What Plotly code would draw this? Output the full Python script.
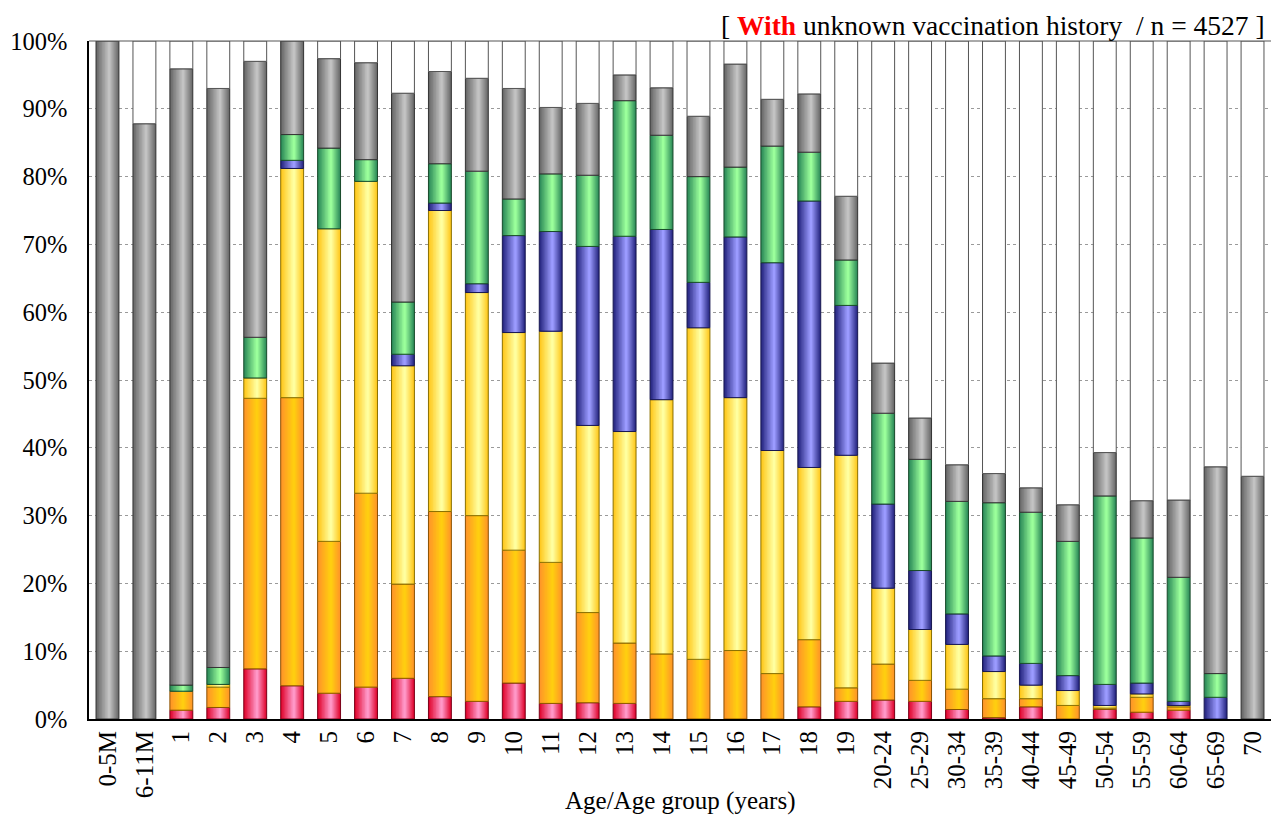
import numpy as np
import plotly.graph_objects as go

categories = ["0-5M", "6-11M", "1", "2", "3", "4", "5", "6", "7", "8", "9", "10",
              "11", "12", "13", "14", "15", "16", "17", "18", "19",
              "20-24", "25-29", "30-34", "35-39", "40-44", "45-49", "50-54",
              "55-59", "60-64", "65-69", "70"]

seg_red = [0, 0, 1.3, 1.7, 7.4, 4.9, 3.8, 4.7, 6.0, 3.3, 2.6, 5.3, 2.3, 2.4, 2.3, 0,
           0, 0, 0, 1.8, 2.6, 2.8, 2.6, 1.4, 0.2, 1.8, 0, 1.4, 1.0, 1.3, 0, 0]
seg_orange = [0, 0, 2.8, 3.0, 39.9, 42.5, 22.4, 28.6, 13.9, 27.3, 27.4, 19.6, 20.8, 13.3, 8.9, 9.6,
              8.8, 10.1, 6.7, 9.9, 2.0, 5.3, 3.1, 3.0, 2.8, 1.2, 2.0, 0.2, 2.2, 0.5, 0, 0]
seg_yellow = [0, 0, 0, 0.4, 3.0, 33.8, 46.1, 46.0, 32.2, 44.4, 32.9, 32.1, 34.1, 27.6, 31.2, 37.5,
              48.9, 37.3, 32.9, 25.4, 34.3, 11.2, 7.5, 6.6, 4.0, 2.0, 2.2, 0.4, 0.5, 0.2, 0, 0]
seg_blue = [0, 0, 0, 0, 0, 1.2, 0, 0, 1.7, 1.1, 1.3, 14.3, 14.7, 26.4, 28.8, 25.1,
            6.7, 23.7, 27.7, 39.3, 22.1, 12.4, 8.7, 4.5, 2.3, 3.2, 2.2, 3.1, 1.6, 0.6, 3.2, 0]
seg_green = [0, 0, 0.9, 2.5, 6.0, 3.8, 11.9, 3.2, 7.7, 5.8, 16.6, 5.4, 8.5, 10.5, 20.0, 13.9,
             15.6, 10.3, 17.2, 7.2, 6.7, 13.4, 16.4, 16.6, 22.6, 22.3, 19.8, 27.8, 21.4, 18.3, 3.5, 0]
seg_gray = [100, 87.8, 90.9, 85.4, 40.7, 13.8, 13.2, 14.3, 30.8, 13.6, 13.7, 16.3, 9.8, 10.6, 3.8, 7.0,
            8.9, 15.2, 6.9, 8.6, 9.4, 7.4, 6.1, 5.4, 4.3, 3.6, 5.4, 6.4, 5.5, 11.4, 30.5, 35.8]

y_ticks = [0, 10, 20, 30, 40, 50, 60, 70, 80, 90, 100]
y_labels = [f"{t}%" for t in y_ticks]

# (values, edge colour, centre colour, outline colour)
series = [
    (seg_red, (224, 8, 48), (255, 152, 200), "#7a0018"),
    (seg_orange, (255, 150, 40), (255, 206, 16), "#8a5000"),
    (seg_yellow, (255, 200, 30), (255, 255, 160), "#8a7000"),
    (seg_blue, (40, 40, 130), (155, 155, 255), "#181850"),
    (seg_green, (45, 140, 90), (155, 255, 155), "#184a2a"),
    (seg_gray, (105, 105, 105), (195, 195, 195), "#333333"),
]

FONT = "Liberation Serif, Times New Roman, serif"
n = len(categories)
x = np.arange(n, dtype=float)
W = 0.62
N = 9

fig = go.Figure()
base = np.zeros(n)


def mix(a, b, t):
    return "rgb(%d,%d,%d)" % tuple(round(a[i] + (b[i] - a[i]) * t) for i in range(3))


for vals, edge, centre, lc in series:
    v = np.array(vals, dtype=float)
    m = v > 0
    for k in range(N):
        t = k / (N - 1)
        w = W * (1 - 0.9 * t)
        shift = 0.07 * W * t
        fig.add_bar(x=x[m], y=v[m], base=base[m], width=w, offset=-w / 2 + shift,
                    marker=dict(color=mix(edge, centre, t), line=dict(width=0)),
                    hoverinfo="skip", showlegend=False)
    fig.add_bar(x=x[m], y=v[m], base=base[m], width=W, offset=-W / 2,
                marker=dict(color="rgba(0,0,0,0)", line=dict(color=lc, width=1)),
                showlegend=False)
    base = base + v

rest = 100 - base
m = rest > 0.05
fig.add_bar(x=x[m], y=rest[m], base=base[m], width=W, offset=-W / 2,
            marker=dict(color="white", line=dict(color="#555555", width=1)),
            showlegend=False)

fig.update_layout(
    width=1272, height=816,
    barmode="overlay",
    plot_bgcolor="white", paper_bgcolor="white",
    margin=dict(l=89, r=1, t=41, b=97, autoexpand=False),
    font=dict(family=FONT, color="black"),
    showlegend=False,
)
fig.update_xaxes(
    range=[-0.5, n - 0.5], tickmode="array", tickvals=x, ticktext=categories,
    tickangle=-90, tickfont=dict(family=FONT, size=25), showgrid=False,
    showline=True, linecolor="black", linewidth=2, ticks="", zeroline=False,
    automargin=False,
)
fig.update_yaxes(
    range=[0, 100], tickmode="array", tickvals=y_ticks, ticktext=y_labels,
    tickfont=dict(family=FONT, size=24.5),
    showgrid=True, gridcolor="#9a9a9a", griddash="dot", gridwidth=1,
    showline=True, linecolor="black", linewidth=1.5, ticks="", zeroline=False,
    ticklabelstandoff=15, automargin=False,
)
fig.add_shape(type="line", xref="paper", yref="paper", x0=0, x1=1, y0=1, y1=1,
              line=dict(color="#555555", width=1))
fig.add_annotation(
    xref="paper", yref="paper", x=0.5, y=-(801 - 719) / 678, xanchor="center", yanchor="middle",
    text="Age/Age group (years)", showarrow=False, font=dict(family=FONT, size=25),
)
fig.add_annotation(
    xref="paper", yref="paper", x=0.997, y=1 + 16 / 678, xanchor="right", yanchor="middle",
    text="[ <b><span style='color:#ff0000'>With</span></b> unknown vaccination history  / n = 4527 ]",
    showarrow=False, font=dict(family=FONT, size=27.5),
)

fig.write_html(
    "out.html",
    config={"displayModeBar": False},
    post_script="document.body.style.margin='0';document.body.style.overflow='hidden';",
)
